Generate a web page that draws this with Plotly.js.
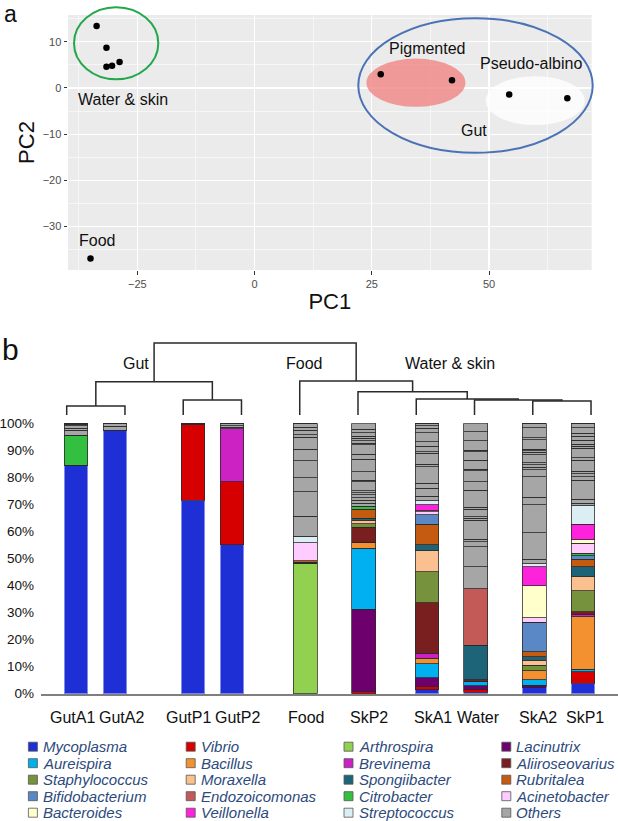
<!DOCTYPE html>
<html><head><meta charset="utf-8">
<script src="https://cdn.plot.ly/plotly-3.0.1.min.js"></script>
<style>html,body{margin:0;padding:0;background:#fff}#chart{width:618px;height:821px}</style>
</head><body><div id="chart"></div>
<script>
// ---------------- Panel a : PCA ----------------
const pc1 = [-33.7, -31.6, -31.6, -30.4, -28.8, 26.9, 42.1, 54.3, 66.7, -35.0];
const pc2 = [13.4, 8.7, 4.6, 4.8, 5.6, 3.0, 1.7, -1.4, -2.2, -36.9];
const groupLabels = ['Water & skin', 'Pigmented', 'Pseudo-albino', 'Gut', 'Food'];
const groupLabelPC1 = [-28.0, 36.8, 58.9, 46.7, -33.6];
const groupLabelPC2 = [-2.4, 8.5, 5.3, -9.1, -33.0];

// ---------------- Panel b : composition ----------------
const samples = ['GutA1','GutA2','GutP1','GutP2','Food','SkP2','SkA1','Water','SkA2','SkP1'];
const taxa = ['Mycoplasma','Vibrio','Arthrospira','Lacinutrix','Aureispira','Bacillus','Brevinema','Aliiroseovarius',
  'Staphylococcus','Moraxella','Spongiibacter','Rubritalea','Bifidobacterium','Endozoicomonas','Citrobacter',
  'Acinetobacter','Bacteroides','Veillonella','Streptococcus','Others'];
const taxaColors = ['#1e2fd6','#d60000','#92d050','#6e006e','#00b0f0','#f39030','#cc22c4','#7a1f1f',
  '#76923c','#fac08f','#1e6478','#c55a11','#5a87c6','#c45a57','#33c040',
  '#ffccff','#ffffcc','#ff22dd','#dbeef4','#a6a6a6'];

const mycoplasma      = [84.5, 97.5, 71.6, 55.0, 0, 0, 1.4, 0.6, 2.4, 3.8];
const vibrio          = [0, 0, 27.8, 23.4, 0, 0.8, 1.2, 1.0, 0, 4.3];
const arthrospira     = [0, 0, 0, 0, 48.2, 0, 0, 0, 0, 0];
const lacinutrix      = [0, 0, 0, 0, 0, 30.4, 3.3, 1.4, 0.8, 0];
const aureispira      = [0, 0, 0, 0, 0, 22.6, 5.1, 1.6, 1.9, 0.9];
const bacillus        = [0, 0, 0, 0, 0.4, 2.2, 2.1, 0, 3.3, 19.5];
const brevinema       = [0, 0, 0, 19.5, 0, 0, 1.8, 0, 0, 0.8];
const aliiroseovarius = [0, 0, 0, 0, 0, 5.5, 18.7, 0.5, 0, 1.0];
const staphylococcus  = [0, 0, 0, 0, 0, 1.3, 11.5, 0, 2.2, 7.8];
const moraxella       = [0, 0, 0, 0, 0, 1.3, 7.7, 0, 1.8, 5.4];
const spongiibacter   = [0, 0, 0, 0, 0, 0.8, 2.2, 12.9, 1.2, 3.5];
const rubritalea      = [0, 0, 0, 0, 0.5, 3.3, 7.7, 0, 2.0, 2.8];
const bifidobacterium = [0, 0, 0, 0, 0, 0, 3.4, 0, 10.8, 1.2];
const endozoicomonas  = [0, 0, 0, 0, 0, 0, 0, 20.8, 0, 0];
const citrobacter     = [11.0, 0, 0, 0, 0, 1.2, 0, 0, 0, 1.0];
const acinetobacter   = [0, 0, 0, 0, 6.8, 0, 1.2, 0, 1.6, 3.7];
const bacteroides     = [0, 0, 0, 0, 0, 0, 0.4, 0, 12.0, 1.2];
const veillonella     = [0, 0, 0, 0, 0, 0, 2.1, 0, 7.0, 5.7];
const streptococcus   = [0, 0, 0, 0, 2.4, 0, 1.6, 0, 1.0, 6.9];

// "Others": many minor taxa, listed bottom to top for each sample
const othersGutA1 = [1.9, 0.8, 0.8, 0.7, 0.3];
const othersGutA2 = [1.4, 1.1];
const othersGutP1 = [0.3, 0.3];
const othersGutP2 = [0.7, 0.5, 0.9];
const othersFood  = [7.4, 9.0, 5.1, 6.4, 4.2, 4.4, 0.9, 1.8, 1.0, 1.5];
const othersSkP2  = [1.0, 1.2, 0.9, 1.0, 0.8, 0.8, 3.3, 0.6, 3.1, 4.6, 1.8, 3.5, 0.6, 1.0, 0.8, 0.9, 1.2, 1.3, 2.2];
const othersSkA1  = [1.7, 2.8, 1.9, 6.1, 0.9, 4.1, 0.6, 2.1, 1.6, 3.3, 1.7, 0.9, 0.9];
const othersWater = [8.2, 7.4, 1.8, 0.9, 7.1, 0.7, 0.6, 2.7, 0.7, 6.4, 3.1, 4.1, 0.5, 3.4, 3.1, 0.6, 3.5, 3.3, 3.1];
const othersSkA2  = [1.7, 9.8, 10.3, 2.8, 7.7, 2.6, 0.8, 0.9, 0.8, 3.0, 0.8, 0.6, 0.6, 3.5, 0.7, 3.7, 1.7];
const othersSkP1  = [0.9, 1.5, 7.1, 1.3, 1.0, 1.0, 4.0, 1.0, 3.4, 0.8, 0.8, 1.5, 1.5, 1.0, 2.0, 1.7];

// dendrogram (leaves = samples in order; merged nodes numbered from 10)
const mergeLeft   = [0, 2, 8, 7, 6, 5, 10, 4, 16];
const mergeRight  = [1, 3, 9, 12, 13, 14, 11, 15, 17];
const mergeHeight = [0.125, 0.208, 0.194, 0.208, 0.222, 0.324, 0.463, 0.472, 1.0];
const clusterLabels = ['Gut', 'Food', 'Water & skin'];

// ---------------- layout helpers (pixels of the 618x821 page) ----------------
const W = 618, H = 821;
const fx = p => p / W, fy = p => 1 - p / H;
const FONT = 'Liberation Sans, Arial, Helvetica, sans-serif';

const taxaValues = [mycoplasma, vibrio, arthrospira, lacinutrix, aureispira, bacillus, brevinema, aliiroseovarius,
  staphylococcus, moraxella, spongiibacter, rubritalea, bifidobacterium, endozoicomonas, citrobacter,
  acinetobacter, bacteroides, veillonella, streptococcus];
const othersBySample = [othersGutA1, othersGutA2, othersGutP1, othersGutP2, othersFood,
  othersSkP2, othersSkA1, othersWater, othersSkA2, othersSkP1];

// category slots (fine grid) so the bars sit with the original spacing
const barSlot = [0, 8, 24, 32, 47, 59, 72, 82, 94, 104];
const slotNames = [];
for (let k = 0; k <= barSlot[barSlot.length - 1]; k++) {
  const i = barSlot.indexOf(k);
  slotNames.push(i >= 0 ? samples[i] : 'gap' + k);
}
const sampleLabelX = [72, 121.5, 188, 237, 306, 369, 433, 478, 538, 585];

const traces = [];
traces.push({type: 'scatter', mode: 'markers', x: pc1, y: pc2, xaxis: 'x', yaxis: 'y',
  marker: {color: '#000', size: 6.5}, hoverinfo: 'skip', showlegend: false, cliponaxis: false});

const outline = 'rgba(40,40,40,0.85)';
taxaValues.forEach((vals, i) => {
  traces.push({type: 'bar', name: taxa[i], x: samples, y: vals, xaxis: 'x2', yaxis: 'y2',
    width: 4.92, marker: {color: taxaColors[i], line: {color: i === 0 ? '#8f95ea' : outline, width: 0.9}},
    showlegend: false, hoverinfo: 'skip'});
});
const maxOthers = Math.max(...othersBySample.map(a => a.length));
for (let k = 0; k < maxOthers; k++) {
  traces.push({type: 'bar', name: 'Others', x: samples, y: othersBySample.map(a => a[k] || 0),
    xaxis: 'x2', yaxis: 'y2', width: 4.92,
    marker: {color: taxaColors[19], line: {color: '#2a2a2a', width: 0.8}}, showlegend: false, hoverinfo: 'skip'});
}

// dendrogram lines
const nodeX = samples.map((s, i) => i), nodeH = samples.map(() => 0);
const dx = [], dy = [];
mergeLeft.forEach((a, k) => {
  const b = mergeRight[k], h = mergeHeight[k];
  dx.push(nodeX[a], nodeX[a], nodeX[b], nodeX[b], null);
  dy.push(nodeH[a], h, h, nodeH[b], null);
  nodeX.push((nodeX[a] + nodeX[b]) / 2);
  nodeH.push(h);
});
traces.push({type: 'scatter', mode: 'lines', x: dx, y: dy, xaxis: 'x3', yaxis: 'y3',
  line: {color: '#2a2a2a', width: 1.5}, hoverinfo: 'skip', showlegend: false, connectgaps: false});

// ---------------- annotations ----------------
const annotations = [];
const paperText = (text, x, y, size, extra) => Object.assign({text: text, x: fx(x), y: fy(y),
  xref: 'paper', yref: 'paper', showarrow: false, xanchor: 'center', yanchor: 'middle',
  font: {size: size, color: '#111'}}, extra || {});
annotations.push(paperText('a', 10, 0, 23, {yanchor: 'top', borderpad: 0}));
annotations.push(paperText('b', 10, 349, 30));
groupLabels.forEach((t, i) => annotations.push({text: t, x: groupLabelPC1[i], y: groupLabelPC2[i],
  xref: 'x', yref: 'y', showarrow: false, xanchor: 'center', yanchor: 'middle', font: {size: 16, color: '#111'}}));
const clusterLabelX = [135.8, 303.8, 450];
clusterLabels.forEach((t, i) => annotations.push(paperText(t, clusterLabelX[i], 363, 16)));
samples.forEach((s, i) => annotations.push(paperText(s, sampleLabelX[i], 717.5, 16)));

// legend (4 columns, row-major as in the original)
const legendColX = [28.4, 186.2, 344, 501.8];
const shapes = [];
taxa.forEach((t, i) => {
  const col = i % 4, row = Math.floor(i / 4);
  const cy = 746.7 + row * 16.5, x0 = legendColX[col];
  shapes.push({type: 'rect', xref: 'paper', yref: 'paper', x0: fx(x0), x1: fx(x0 + 9),
    y0: fy(cy + 4.5), y1: fy(cy - 4.5), fillcolor: taxaColors[i], line: {color: '#555', width: 0.8}});
  annotations.push(paperText(t, x0 + 12.6, cy, 15,
    {xanchor: 'left', font: {size: 15, style: 'italic', color: '#2c4a7c'}}));
});

// panel a background and group ellipses
shapes.push({type: 'rect', xref: 'paper', yref: 'paper', x0: fx(68), x1: fx(591.7), y0: fy(270), y1: fy(15),
  fillcolor: '#ebebeb', line: {width: 0}, layer: 'below'});
shapes.push({type: 'circle', xref: 'x', yref: 'y', x0: 23.85, x1: 44.97, y0: -4.08, y1: 6.36,
  fillcolor: 'rgba(240,120,120,0.72)', line: {width: 0}, layer: 'between'});
shapes.push({type: 'circle', xref: 'x', yref: 'y', x0: 49.3, x1: 70.4, y0: -8.02, y1: 2.55,
  fillcolor: 'rgba(255,255,255,0.8)', line: {width: 0}, layer: 'between'});
shapes.push({type: 'circle', xref: 'paper', yref: 'paper', x0: fx(74), x1: fx(158.3), y0: fy(79.3), y1: fy(7.3),
  line: {color: '#22a84a', width: 2}, layer: 'above'});
shapes.push({type: 'circle', xref: 'paper', yref: 'paper', x0: fx(358.3), x1: fx(592.7), y0: fy(152.7), y1: fy(18.3),
  line: {color: '#4a72b5', width: 2}, layer: 'above'});

const layout = {
  width: W, height: H, margin: {l: 0, r: 0, t: 0, b: 0},
  paper_bgcolor: '#fff', plot_bgcolor: 'rgba(0,0,0,0)',
  font: {family: FONT, color: '#111'},
  showlegend: false, barmode: 'stack',
  xaxis: {domain: [fx(68), fx(591.7)], anchor: 'y', range: [-39.8, 71.9], tick0: 0, dtick: 25,
    showgrid: true, gridcolor: '#fff', gridwidth: 1.1, zeroline: false, showline: false,
    minor: {tick0: 0, dtick: 12.5, showgrid: true, gridcolor: '#fff', gridwidth: 0.55},
    ticks: 'outside', ticklen: 3.5, tickwidth: 1, tickcolor: '#333',
    tickfont: {size: 11, color: '#4d4d4d'}, automargin: false,
    title: {text: 'PC1', font: {size: 22, color: '#111'}, standoff: 4}},
  yaxis: {domain: [fy(270), fy(15)], anchor: 'x', range: [-39.4, 15.8], tick0: 0, dtick: 10,
    showgrid: true, gridcolor: '#fff', gridwidth: 1.1, zeroline: false, showline: false,
    minor: {tick0: 0, dtick: 5, showgrid: true, gridcolor: '#fff', gridwidth: 0.55},
    ticks: 'outside', ticklen: 3.5, tickwidth: 1, tickcolor: '#333',
    tickfont: {size: 11, color: '#4d4d4d'}, automargin: false,
    title: {text: 'PC2', font: {size: 22, color: '#111'}, standoff: 1}},
  xaxis2: {domain: [fx(41), 1], anchor: 'y2', type: 'category', categoryorder: 'array',
    categoryarray: slotNames, range: [-7.18, 111.18], showticklabels: false, ticks: '',
    showgrid: false, zeroline: false, showline: true, linecolor: '#7f7f7f', linewidth: 2, automargin: false},
  yaxis2: {domain: [fy(693.7), fy(423.3)], anchor: 'x2', range: [0, 100], tickmode: 'array',
    tickvals: [0,10,20,30,40,50,60,70,80,90,100], ticktext: ['0%','10%','20%','30%','40%','50%','60%','70%','80%','90%','100%'],
    showgrid: false, zeroline: false, showline: false, ticks: '', ticklabelstandoff: 6,
    tickfont: {size: 13.5, color: '#111'}, automargin: false},
  xaxis3: {domain: [0, 1], anchor: 'y3', range: [-1.145, 9.463], visible: false},
  yaxis3: {domain: [fy(418), fy(340)], anchor: 'x3', range: [-3/72, 1 + 3/72], visible: false},
  annotations: annotations, shapes: shapes
};

Plotly.newPlot('chart', traces, layout, {displayModeBar: false, staticPlot: true});
</script></body></html>
